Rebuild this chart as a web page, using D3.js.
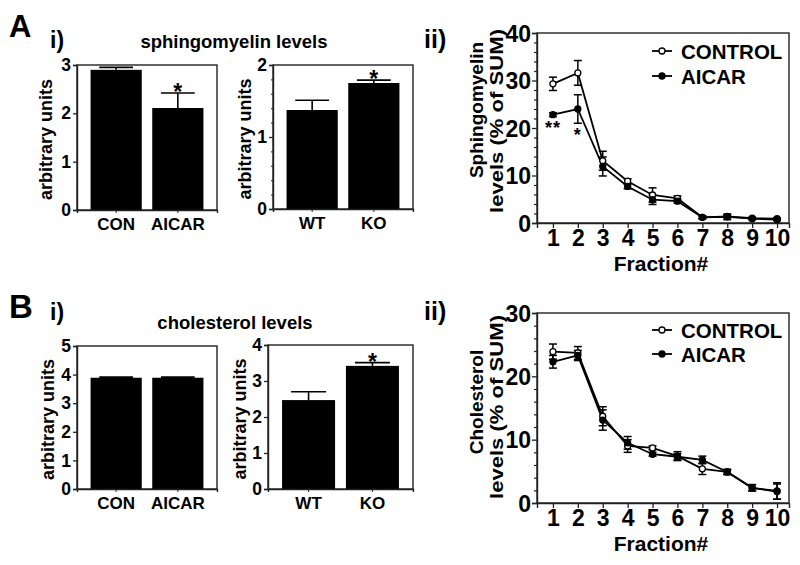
<!DOCTYPE html>
<html><head><meta charset="utf-8">
<script src="https://cdn.jsdelivr.net/npm/d3@7"></script>
<style>
body{margin:0;background:#fff;}
text{font-family:"Liberation Sans",Arial,Helvetica,sans-serif;font-weight:bold;fill:#000;}
</style></head>
<body><svg id="c" width="800" height="565"></svg>
<script>
// ---- Data ----
const sphAicarCats = ["CON", "AICAR"];
const sphAicarVals = [2.90, 2.11];
const sphAicarErr  = [0.05, 0.31];
const sphAicarSig  = ["", "*"];

const sphKoCats = ["WT", "KO"];
const sphKoVals = [1.375, 1.75];
const sphKoErr  = [0.135, 0.04];
const sphKoSig  = ["", "*"];

const cholAicarCats = ["CON", "AICAR"];
const cholAicarVals = [3.89, 3.89];
const cholAicarErr  = [0.02, 0.02];
const cholAicarSig  = ["", ""];

const cholKoCats = ["WT", "KO"];
const cholKoVals = [2.47, 3.42];
const cholKoErr  = [0.23, 0.09];
const cholKoSig  = ["", "*"];

const fractions = [1, 2, 3, 4, 5, 6, 7, 8, 9, 10];
const sphControl    = [29.3, 31.6, 13.1, 8.8, 5.9, 5.2, 1.2, 1.4, 1.0, 0.9];
const sphControlErr = [1.4, 2.6, 2.0, 0.5, 1.5, 0.5, 0.3, 0.3, 0.2, 0.2];
const sphAicar      = [22.8, 24.0, 11.9, 7.7, 4.9, 4.6, 1.2, 1.3, 0.9, 0.7];
const sphAicarLnErr = [0.4, 3.0, 2.0, 0.5, 1.0, 0.4, 0.3, 0.6, 0.2, 0.2];
const sphLineSig    = ["**", "*", "", "", "", "", "", "", "", ""];

const cholControl    = [23.9, 23.7, 13.7, 9.0, 8.7, 7.4, 5.4, 4.9, 2.4, 1.9];
const cholControlErr = [1.2, 1.0, 1.5, 1.0, 0.3, 0.7, 0.9, 0.4, 0.5, 1.3];
const cholAicar      = [22.3, 23.3, 13.1, 9.5, 7.7, 7.3, 6.8, 4.9, 2.4, 1.8];
const cholAicarLnErr = [1.0, 0.8, 1.6, 1.0, 0.3, 0.5, 0.6, 0.4, 0.5, 1.2];

const barTicksA1 = [0, 1, 2, 3];
const barTicksA2 = [0, 1, 2];
const barTicksB1 = [0, 1, 2, 3, 4, 5];
const barTicksB2 = [0, 1, 2, 3, 4];
const lineTicksA = [0, 10, 20, 30, 40];
const lineTicksB = [0, 10, 20, 30];
const legendLabels = ["CONTROL", "AICAR"];

// ---- Drawing ----
const svg = d3.select("#c");
const AX = "#222";
const FF = "Liberation Sans, Arial, sans-serif";

function barPanel(o) {
  const g = svg.append("g");
  const x = d3.scaleBand().domain(o.cats).range([o.x0, o.x1]).paddingInner(0.17).paddingOuter(0.22);
  const y = d3.scaleLinear().domain([0, o.max]).range([o.y1, o.y0]);
  g.append("rect").attr("x", o.x0).attr("y", o.y0).attr("width", o.x1 - o.x0).attr("height", o.y1 - o.y0)
    .attr("fill", "none").attr("stroke", AX).attr("stroke-width", 1.4);
  g.selectAll(".bar").data(o.vals).join("rect")
    .attr("x", (d, i) => x(o.cats[i])).attr("width", x.bandwidth())
    .attr("y", d => y(d)).attr("height", d => y(0) - y(d)).attr("fill", "#000");
  o.vals.forEach((v, i) => {
    const cx = x(o.cats[i]) + x.bandwidth() / 2;
    const top = y(v + o.err[i]);
    g.append("line").attr("x1", cx).attr("x2", cx).attr("y1", y(v)).attr("y2", top).attr("stroke", "#000").attr("stroke-width", 1.6);
    g.append("line").attr("x1", cx - x.bandwidth() * 0.33).attr("x2", cx + x.bandwidth() * 0.33).attr("y1", top).attr("y2", top).attr("stroke", "#000").attr("stroke-width", 1.6);
    if (o.sig[i]) {
      g.append("text").attr("x", cx).attr("y", top - 6 + 0.57 * 23).attr("text-anchor", "middle")
        .attr("font-size", 23).text(o.sig[i]);
    }
  });
  const ya = d3.axisLeft(y).tickValues(o.ticks).tickSize(4).tickPadding(2).tickFormat(d3.format("d"));
  const ag = g.append("g").attr("transform", `translate(${o.x0},0)`).call(ya);
  ag.select(".domain").attr("stroke", AX).attr("stroke-width", 1.4);
  ag.selectAll(".tick line").attr("stroke", AX).attr("stroke-width", 1.3);
  ag.selectAll("text").attr("font-size", 17.5).attr("font-family", FF).attr("font-weight", "bold").attr("fill", "#000");
  if (o.minor) {
    const mg = g.append("g").attr("transform", `translate(${o.x0},0)`)
      .call(d3.axisLeft(y).tickValues(d3.range(0, o.max + 1e-9, o.minor).filter(t => Math.abs(t - Math.round(t)) > 1e-6)).tickSize(2).tickFormat(""));
    mg.select(".domain").remove();
    mg.selectAll(".tick line").attr("stroke", AX);
  }
  const xa = d3.axisBottom(x).tickSize(3).tickPadding(5);
  const xg = g.append("g").attr("transform", `translate(0,${o.y1})`).call(xa);
  xg.select(".domain").attr("stroke", AX).attr("stroke-width", 1.4);
  xg.selectAll(".tick line").attr("stroke", AX);
  xg.selectAll("text").attr("font-size", 17).attr("font-family", FF).attr("font-weight", "bold").attr("fill", "#000");
  g.append("text").attr("transform", `translate(${o.labX},${(o.y0 + o.y1) / 2 + 2}) rotate(-90)`)
    .attr("text-anchor", "middle").attr("font-size", 18).text("arbitrary units");
}

function linePanel(o) {
  const g = svg.append("g");
  const x = d3.scaleLinear().domain([0.36, 10.48]).range([537, 789]);
  const y = d3.scaleLinear().domain([0, o.max]).range([o.y1, o.y0]);
  g.append("rect").attr("x", 537).attr("y", o.y0).attr("width", 252).attr("height", o.y1 - o.y0)
    .attr("fill", "none").attr("stroke", AX).attr("stroke-width", 1.4);
  const mg = g.append("g").attr("transform", "translate(537,0)")
    .call(d3.axisLeft(y).tickValues(d3.range(0, o.max + 1e-9, 2).filter(t => t % 10 !== 0)).tickSize(3).tickFormat(""));
  mg.select(".domain").remove();
  mg.selectAll(".tick line").attr("stroke", AX).attr("stroke-width", 1.2);
  const ag = g.append("g").attr("transform", "translate(537,0)")
    .call(d3.axisLeft(y).tickValues(o.ticks).tickSize(5).tickPadding(1).tickFormat(d3.format("d")));
  ag.select(".domain").attr("stroke", AX).attr("stroke-width", 1.4);
  ag.selectAll(".tick line").attr("stroke", AX).attr("stroke-width", 1.3);
  ag.selectAll("text").attr("font-size", 23).attr("font-family", FF).attr("font-weight", "bold").attr("fill", "#000").attr("dy", "0.36em");
  const xg = g.append("g").attr("transform", `translate(0,${o.y1})`)
    .call(d3.axisBottom(x).tickValues(fractions).tickSize(5).tickPadding(2).tickFormat(d3.format("d")));
  xg.select(".domain").attr("stroke", AX).attr("stroke-width", 1.4);
  xg.selectAll(".tick line").attr("stroke", AX).attr("stroke-width", 1.3);
  xg.selectAll("text").attr("font-size", 23).attr("font-family", FF).attr("font-weight", "bold").attr("fill", "#000");
  const series = [
    {v: o.ctrl, e: o.ctrlErr, fill: "#fff"},
    {v: o.aic, e: o.aicErr, fill: "#000"}
  ];
  const line = d3.line().x((d, i) => x(fractions[i])).y(d => y(d));
  series.forEach(s => {
    g.append("path").attr("d", line(s.v)).attr("fill", "none").attr("stroke", "#000").attr("stroke-width", 1.8);
    s.v.forEach((v, i) => {
      const cx = x(fractions[i]);
      g.append("line").attr("x1", cx).attr("x2", cx).attr("y1", y(v - s.e[i])).attr("y2", y(v + s.e[i])).attr("stroke", "#000").attr("stroke-width", 1.5);
      [v - s.e[i], v + s.e[i]].forEach(t => g.append("line").attr("x1", cx - 4).attr("x2", cx + 4).attr("y1", y(t)).attr("y2", y(t)).attr("stroke", "#000").attr("stroke-width", 1.5));
    });
  });
  series.forEach(s => {
    g.selectAll(null).data(s.v).join("circle")
      .attr("cx", (d, i) => x(fractions[i])).attr("cy", d => y(d)).attr("r", 3)
      .attr("fill", s.fill).attr("stroke", "#000").attr("stroke-width", 1.3);
  });
  if (o.sig) {
    o.sig.forEach((s, i) => {
      if (!s) return;
      g.append("text").attr("x", x(fractions[i])).attr("y", y(o.aic[i] - o.aicErr[i]) + 7 + 0.57 * 18)
        .attr("text-anchor", "middle").attr("font-size", 18).attr("letter-spacing", 1).text(s);
    });
  }
  legendLabels.forEach((lab, i) => {
    const ly = o.legY[i];
    g.append("line").attr("x1", 652).attr("x2", 672).attr("y1", ly).attr("y2", ly).attr("stroke", "#000").attr("stroke-width", 1.8);
    g.append("circle").attr("cx", 662).attr("cy", ly).attr("r", 3).attr("fill", i === 0 ? "#fff" : "#000").attr("stroke", "#000").attr("stroke-width", 1.3);
    g.append("text").attr("x", 681).attr("y", ly + 7.5).attr("font-size", 20.5).text(lab);
  });
  g.append("text").attr("transform", `translate(483,${o.lab1C}) rotate(-90)`).attr("text-anchor", "middle").attr("font-size", 19).text(o.ylab1);
  g.append("text").attr("transform", `translate(503,${o.lab2C}) rotate(-90)`).attr("text-anchor", "middle").attr("font-size", 19)
    .attr("textLength", 184).attr("lengthAdjust", "spacingAndGlyphs").text("levels (% of SUM)");
  g.append("text").attr("x", 661).attr("y", o.y1 + 48).attr("text-anchor", "middle").attr("font-size", 21).text("Fraction#");
}

// Panel A
svg.append("text").attr("x", 9).attr("y", 37).attr("font-size", 31).text("A");
svg.append("text").attr("x", 50).attr("y", 48).attr("font-size", 23).text("i)");
svg.append("text").attr("x", 234).attr("y", 48).attr("text-anchor", "middle").attr("font-size", 18.5).text("sphingomyelin levels");
svg.append("text").attr("x", 424).attr("y", 48).attr("font-size", 25).text("ii)");

barPanel({cats: sphAicarCats, vals: sphAicarVals, err: sphAicarErr, sig: sphAicarSig, max: 3, ticks: barTicksA1,
  x0: 77, x1: 217, y0: 65, y1: 210, labX: 52});
barPanel({cats: sphKoCats, vals: sphKoVals, err: sphKoErr, sig: sphKoSig, max: 2, ticks: barTicksA2, minor: 0.2,
  x0: 273, x1: 413, y0: 65, y1: 209, labX: 251});
linePanel({max: 40, ticks: lineTicksA, y0: 33, y1: 223, ctrl: sphControl, ctrlErr: sphControlErr, aic: sphAicar, aicErr: sphAicarLnErr,
  sig: sphLineSig, legY: [51, 76], ylab1: "Sphingomyelin", lab1C: 110, lab2C: 121});

// Panel B
svg.append("text").attr("x", 9).attr("y", 318).attr("font-size", 33).text("B");
svg.append("text").attr("x", 50).attr("y", 320).attr("font-size", 23).text("i)");
svg.append("text").attr("x", 235).attr("y", 329).attr("text-anchor", "middle").attr("font-size", 18.5).text("cholesterol levels");
svg.append("text").attr("x", 424).attr("y", 320).attr("font-size", 25).text("ii)");

barPanel({cats: cholAicarCats, vals: cholAicarVals, err: cholAicarErr, sig: cholAicarSig, max: 5, ticks: barTicksB1,
  x0: 77, x1: 217, y0: 346, y1: 489, labX: 54});
barPanel({cats: cholKoCats, vals: cholKoVals, err: cholKoErr, sig: cholKoSig, max: 4, ticks: barTicksB2,
  x0: 268, x1: 413, y0: 345, y1: 489, labX: 246});
linePanel({max: 30, ticks: lineTicksB, y0: 313, y1: 503, ctrl: cholControl, ctrlErr: cholControlErr, aic: cholAicar, aicErr: cholAicarLnErr,
  legY: [330, 354], ylab1: "Cholesterol", lab1C: 402, lab2C: 407});
</script></body></html>
